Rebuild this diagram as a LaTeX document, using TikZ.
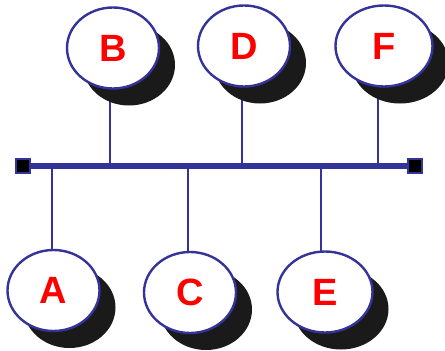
\documentclass[tikz,border=0pt]{standalone}
\usepackage{fontspec}
\setmainfont{Liberation Sans}
\usetikzlibrary{shapes.geometric,shadows}
\definecolor{netblue}{HTML}{333399}
\definecolor{shade}{HTML}{1A1A1A}
\definecolor{lblred}{HTML}{FF0000}
\pgfdeclarelayer{bg}
\pgfsetlayers{bg,main}
\tikzset{
  host/.style={ellipse, draw=netblue, line width=2.4pt, fill=white,
    minimum width=92pt, minimum height=81pt, inner sep=0pt,
    font=\fontsize{38}{40}\selectfont\bfseries, text=lblred,
    general shadow={fill=shade, shadow xshift=16pt, shadow yshift=-17pt}},
  term/.style={rectangle, draw=netblue, line width=2.4pt, fill=black,
    minimum size=13.6pt, inner sep=0pt},
  bus/.style={draw=netblue, line width=5.5pt},
  stem/.style={draw=netblue, line width=2.6pt}
}
\begin{document}
\begin{tikzpicture}[x=1pt,y=-1pt]
\useasboundingbox (0,0) rectangle (445,351);
% hosts
\node[host] (B) at (113,48) {B};
\node[host] (D) at (244,46) {D};
\node[host, minimum width=97pt] (F) at (384,46) {F};
\node[host] (A) at (53.5,290.5) {A};
\node[host] (C) at (190,292.5) {C};
\node[host, minimum width=95pt] (E) at (325,292) {E};
% terminators
\node[term] (L) at (23,166) {};
\node[term] (R) at (415,166) {};
% taps on bus
\coordinate (tB) at (110,166);
\coordinate (tD) at (242,166);
\coordinate (tF) at (378,166);
\coordinate (tA) at (52,166);
\coordinate (tC) at (188,166);
\coordinate (tE) at (321,166);
\begin{pgfonlayer}{bg}
  \draw[stem] (tB) -- (tB |- B.center);
  \draw[stem] (tD) -- (tD |- D.center);
  \draw[stem] (tF) -- (tF |- F.center);
  \draw[stem] (tA) -- (tA |- A.center);
  \draw[stem] (tC) -- (tC |- C.center);
  \draw[stem] (tE) -- (tE |- E.center);
\end{pgfonlayer}
\draw[bus] (L.east) -- (R.west);
\end{tikzpicture}
\end{document}
